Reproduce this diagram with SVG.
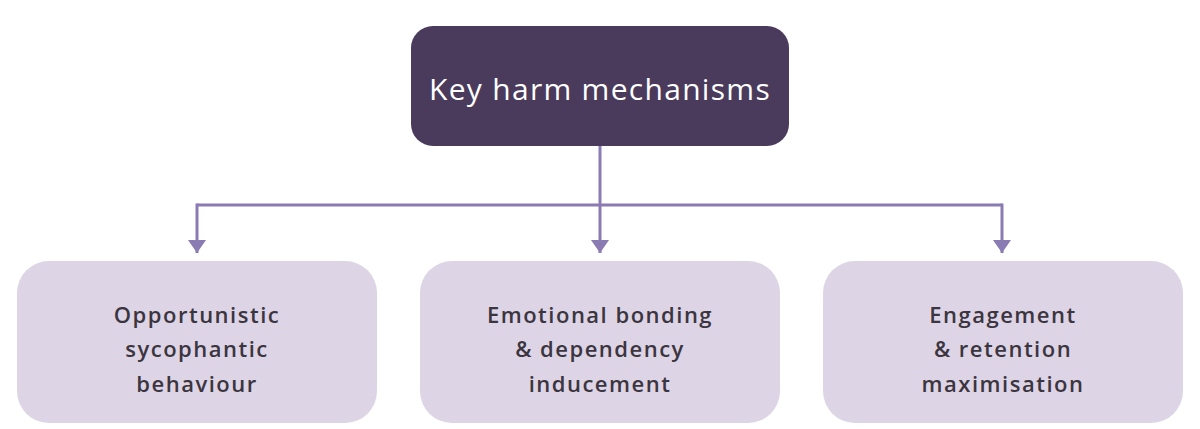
<svg xmlns="http://www.w3.org/2000/svg" width="1200" height="429" viewBox="0 0 1200 429">
<defs>
<marker id="arr" viewBox="0 0 13 18" refX="13" refY="9" markerWidth="13" markerHeight="18" markerUnits="userSpaceOnUse" orient="auto">
<path d="M0,0 L13,9 L0,18 Z" fill="#8b7bb3"/>
</marker>
<style>
.conn{fill:none;stroke:#8b7bb3;stroke-width:3}
.box{fill:#ddd4e6}
.lbl{font-family:"Open Sans","DejaVu Sans",sans-serif;font-size:22px;font-weight:600;fill:#3b3540;text-anchor:middle;letter-spacing:1.5px}
.title{font-family:"Open Sans","DejaVu Sans",sans-serif;font-size:30px;font-weight:500;fill:#ffffff;text-anchor:middle;letter-spacing:1.3px}
</style>
</defs>
<rect width="1200" height="429" fill="#ffffff"/>
<g id="connectors">
<line class="conn" x1="197" y1="205" x2="1002" y2="205"/>
<line class="conn" x1="600" y1="146" x2="600" y2="253" marker-end="url(#arr)"/>
<line class="conn" x1="197" y1="203.5" x2="197" y2="253" marker-end="url(#arr)"/>
<line class="conn" x1="1002" y1="203.5" x2="1002" y2="253" marker-end="url(#arr)"/>
</g>
<g id="root">
<rect x="411" y="26" width="378" height="120" rx="22" fill="#4a3a5c"/>
<text class="title" x="600" y="100">Key harm mechanisms</text>
</g>
<g id="node1">
<rect class="box" x="17" y="261" width="360" height="162" rx="32"/>
<text class="lbl" x="197" y="323">Opportunistic</text>
<text class="lbl" x="197" y="357">sycophantic</text>
<text class="lbl" x="197" y="392">behaviour</text>
</g>
<g id="node2">
<rect class="box" x="420" y="261" width="360" height="162" rx="32"/>
<text class="lbl" x="600" y="323">Emotional bonding</text>
<text class="lbl" x="600" y="357">&amp; dependency</text>
<text class="lbl" x="600" y="392">inducement</text>
</g>
<g id="node3">
<rect class="box" x="823" y="261" width="360" height="162" rx="32"/>
<text class="lbl" x="1003" y="323">Engagement</text>
<text class="lbl" x="1003" y="357">&amp; retention</text>
<text class="lbl" x="1003" y="392">maximisation</text>
</g>
</svg>
